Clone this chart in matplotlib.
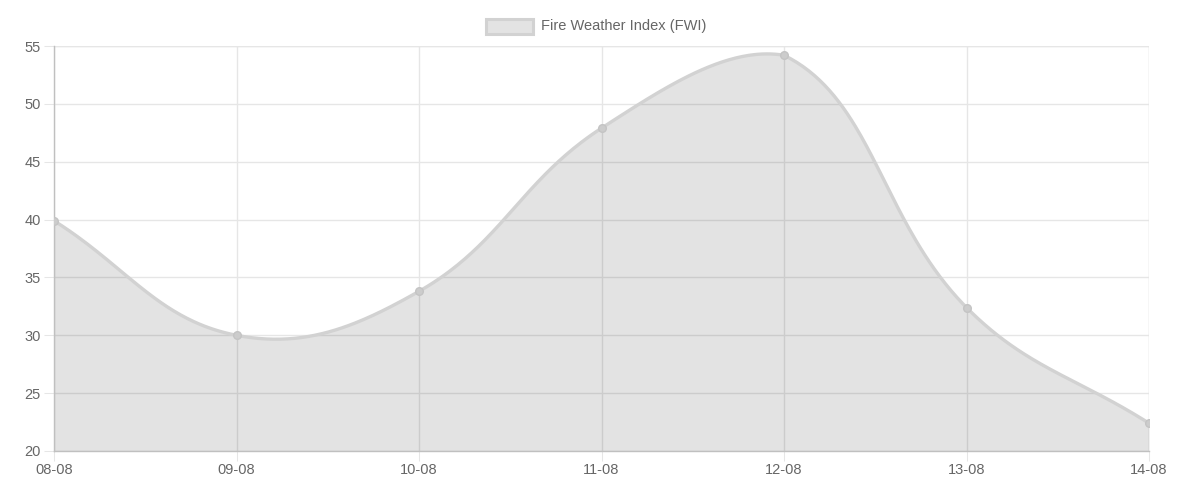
import numpy as np
import matplotlib.pyplot as plt
from matplotlib.patches import Rectangle

# Data
dates = ["08-08", "09-08", "10-08", "11-08", "12-08", "13-08", "14-08"]
fwi = [39.9, 30.0, 33.8, 47.9, 54.2, 32.4, 22.4]
series_label = "Fire Weather Index (FWI)"

plt.rcParams["font.family"] = ["Liberation Sans", "DejaVu Sans"]

W, H = 1177, 484
fig = plt.figure(figsize=(W / 100, H / 100), dpi=100)
left, right, top, bottom = 54, 1149, 46, 451
ax = fig.add_axes([left / W, (H - bottom) / H, (right - left) / W, (bottom - top) / H])

ymin, ymax = 20, 55
n = len(fwi)
xs = np.arange(n, dtype=float)
ys = np.array(fwi, dtype=float)

# Chart.js style spline (tension 0.4), computed in pixel space,
# control points capped to the chart area
sx = (right - left) / (n - 1)
sy = (bottom - top) / (ymax - ymin)
px = xs * sx
py = (ys - ymin) * sy
t = 0.4
cp_prev, cp_next = [], []
for i in range(n):
    p0 = np.array([px[max(i - 1, 0)], py[max(i - 1, 0)]])
    p1 = np.array([px[i], py[i]])
    p2 = np.array([px[min(i + 1, n - 1)], py[min(i + 1, n - 1)]])
    d01 = np.hypot(*(p1 - p0))
    d12 = np.hypot(*(p2 - p1))
    tot = d01 + d12
    s01 = d01 / tot if tot else 0
    s12 = d12 / tot if tot else 0
    a = p1 - t * s01 * (p2 - p0)
    b = p1 + t * s12 * (p2 - p0)
    for c in (a, b):
        c[0] = np.clip(c[0], 0, px[-1])
        c[1] = np.clip(c[1], 0, (ymax - ymin) * sy)
    cp_prev.append(a)
    cp_next.append(b)

curve_x, curve_y = [], []
u = np.linspace(0, 1, 80)
for i in range(n - 1):
    a = np.array([px[i], py[i]])
    b = cp_next[i]
    c = cp_prev[i + 1]
    d = np.array([px[i + 1], py[i + 1]])
    pts = ((1 - u) ** 3)[:, None] * a + (3 * (1 - u) ** 2 * u)[:, None] * b \
        + (3 * (1 - u) * u ** 2)[:, None] * c + (u ** 3)[:, None] * d
    curve_x.extend(pts[:, 0] / sx)
    curve_y.extend(pts[:, 1] / sy + ymin)
curve_x = np.array(curve_x)
curve_y = np.array(curve_y)

ax.fill_between(curve_x, ymin, curve_y, color=(0, 0, 0, 0.11), lw=0, zorder=2)
ax.plot(curve_x, curve_y, color="#d2d2d2", lw=2.4, zorder=3, solid_capstyle="round")
ax.plot(xs, ys, "o", ms=5.5, color="#cccccc", mec="#c4c4c4", mew=1, zorder=4)

ax.set_xlim(0, n - 1)
ax.set_ylim(ymin, ymax)
ax.set_xticks(xs)
ax.set_xticklabels(dates)
ax.set_yticks(np.arange(20, 56, 5))

ax.grid(True, color="#e6e6e6", lw=1, zorder=0)
ax.set_axisbelow(True)
for s in ["top", "right"]:
    ax.spines[s].set_visible(False)
for s in ["left", "bottom"]:
    ax.spines[s].set_color("#c0c0c0")
    ax.spines[s].set_linewidth(1)
ax.tick_params(axis="both", colors="#e6e6e6", labelcolor="#666666",
               labelsize=10.5, length=7.2, width=0.75)
ax.tick_params(axis="y", pad=2.2)
ax.tick_params(axis="x", pad=1.5)
ax.axvline(n - 1, color="#e6e6e6", lw=1, zorder=0)
ax.axhline(ymax, color="#e6e6e6", lw=1, zorder=0)

# Legend in Chart.js style
fig.patches.append(Rectangle((486 / W, (H - 34) / H), 47 / W, 15 / H,
                             transform=fig.transFigure, facecolor="#e3e3e3",
                             edgecolor="#d2d2d2", lw=2.2))
fig.text(541 / W, (H - 26) / H, series_label, color="#666666", fontsize=10.5,
         va="center", ha="left")

fig.savefig("out.png", dpi=100)
